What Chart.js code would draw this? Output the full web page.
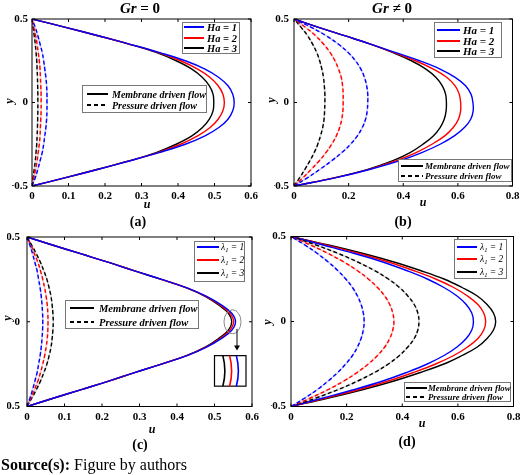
<!DOCTYPE html>
<html><head><meta charset="utf-8">
<script src="https://cdn.jsdelivr.net/npm/chart.js@4.4.1/dist/chart.umd.min.js"></script>
<style>
body{margin:0;width:520px;height:475px;overflow:hidden;background:#fff;position:relative;font-family:"Liberation Serif",serif;}
canvas{position:absolute;left:0;top:0;}
.t{position:absolute;white-space:nowrap;color:#000;z-index:6;line-height:1;}
.lg{position:absolute;border:1px solid #777;background:#fff;box-sizing:border-box;z-index:5;}
.ln{position:absolute;z-index:6;height:2px;}
sub{font-size:70%;vertical-align:-0.25em;line-height:0;}
</style></head><body>
<canvas id="ca" width="520" height="475"></canvas>
<canvas id="cb" width="520" height="475"></canvas>
<canvas id="cc" width="520" height="475"></canvas>
<canvas id="cd" width="520" height="475"></canvas>
<script>
// ---------- data ----------
const yGrid = [-0.5,-0.45,-0.4,-0.35,-0.3,-0.25,-0.2,-0.15,-0.1,-0.05,0,0.05,0.1,0.15,0.2,0.25,0.3,0.35,0.4,0.45,0.5];

// (a) Gr = 0
const aMemHa1 = [0,0.092,0.182,0.267,0.348,0.42,0.474,0.512,0.537,0.55,0.554,0.55,0.537,0.512,0.474,0.42,0.348,0.267,0.182,0.092,0];
const aMemHa2 = [0,0.092,0.181,0.266,0.345,0.407,0.454,0.488,0.51,0.523,0.527,0.523,0.51,0.488,0.454,0.407,0.345,0.266,0.181,0.092,0];
const aMemHa3 = [0,0.092,0.18,0.265,0.34,0.395,0.438,0.467,0.486,0.496,0.498,0.496,0.486,0.467,0.438,0.395,0.34,0.265,0.18,0.092,0];
const aPrsHa1 = [0,0.009,0.016,0.022,0.028,0.032,0.035,0.038,0.04,0.041,0.041,0.041,0.04,0.038,0.035,0.032,0.028,0.022,0.016,0.009,0];
const aPrsHa2 = [0,0.005,0.01,0.014,0.017,0.02,0.022,0.023,0.024,0.025,0.025,0.025,0.024,0.023,0.022,0.02,0.017,0.014,0.01,0.005,0];
const aPrsHa3 = [0,0.003,0.006,0.009,0.011,0.013,0.014,0.015,0.0155,0.016,0.016,0.016,0.0155,0.015,0.014,0.013,0.011,0.009,0.006,0.003,0];

// (b) Gr != 0
const bMemHa1 = [0,0.155,0.28,0.385,0.468,0.535,0.587,0.624,0.647,0.656,0.655,0.648,0.628,0.59,0.535,0.46,0.37,0.28,0.185,0.09,0];
const bMemHa2 = [0,0.152,0.275,0.372,0.447,0.505,0.552,0.583,0.602,0.61,0.61,0.605,0.59,0.56,0.51,0.445,0.365,0.28,0.185,0.09,0];
const bMemHa3 = [0,0.15,0.27,0.36,0.425,0.472,0.51,0.535,0.55,0.557,0.558,0.555,0.543,0.52,0.483,0.43,0.36,0.28,0.185,0.09,0];
const bPrsHa1 = [0,0.05,0.095,0.137,0.175,0.207,0.232,0.25,0.262,0.268,0.27,0.27,0.266,0.258,0.245,0.225,0.198,0.162,0.118,0.063,0];
const bPrsHa2 = [0,0.033,0.063,0.092,0.117,0.138,0.155,0.167,0.175,0.179,0.18,0.18,0.178,0.173,0.163,0.15,0.132,0.108,0.079,0.042,0];
const bPrsHa3 = [0,0.021,0.04,0.058,0.074,0.087,0.097,0.105,0.11,0.112,0.113,0.113,0.111,0.108,0.102,0.094,0.083,0.068,0.05,0.026,0];

// (c) lambda_1
const cMemL1 = [0,0.072,0.145,0.218,0.287,0.359,0.427,0.479,0.518,0.546,0.556,0.546,0.518,0.479,0.427,0.359,0.287,0.218,0.145,0.072,0];
const cMemL2 = [0,0.072,0.145,0.218,0.287,0.358,0.426,0.477,0.514,0.541,0.551,0.541,0.514,0.477,0.426,0.358,0.287,0.218,0.145,0.072,0];
const cMemL3 = [0,0.072,0.145,0.218,0.287,0.358,0.425,0.475,0.51,0.537,0.546,0.537,0.51,0.475,0.425,0.358,0.287,0.218,0.145,0.072,0];
const cPrsL1 = [0,0.008,0.015,0.021,0.027,0.031,0.035,0.038,0.04,0.0415,0.042,0.0415,0.04,0.038,0.035,0.031,0.027,0.021,0.015,0.008,0];
const cPrsL2 = [0,0.011,0.02,0.029,0.036,0.042,0.047,0.051,0.054,0.0555,0.056,0.0555,0.054,0.051,0.047,0.042,0.036,0.029,0.02,0.011,0];
const cPrsL3 = [0,0.013,0.025,0.036,0.045,0.053,0.059,0.064,0.067,0.069,0.07,0.069,0.067,0.064,0.059,0.053,0.045,0.036,0.025,0.013,0];

// (d) lambda_1
const dMemL1 = [0,0.115,0.228,0.33,0.415,0.49,0.55,0.597,0.63,0.65,0.656,0.65,0.63,0.597,0.55,0.49,0.415,0.33,0.228,0.115,0];
const dMemL2 = [0,0.125,0.245,0.35,0.44,0.52,0.585,0.635,0.672,0.693,0.7,0.693,0.672,0.635,0.585,0.52,0.44,0.35,0.245,0.125,0];
const dMemL3 = [0,0.135,0.26,0.37,0.465,0.55,0.615,0.67,0.705,0.728,0.736,0.728,0.705,0.67,0.615,0.55,0.465,0.37,0.26,0.135,0];
const dPrsL1 = [0,0.05,0.095,0.134,0.168,0.197,0.221,0.239,0.252,0.26,0.263,0.26,0.252,0.239,0.221,0.197,0.168,0.134,0.095,0.05,0];
const dPrsL2 = [0,0.07,0.134,0.19,0.238,0.278,0.311,0.337,0.355,0.366,0.37,0.366,0.355,0.337,0.311,0.278,0.238,0.19,0.134,0.07,0];
const dPrsL3 = [0,0.09,0.17,0.24,0.3,0.35,0.39,0.42,0.443,0.456,0.46,0.456,0.443,0.42,0.39,0.35,0.3,0.24,0.17,0.09,0];

// ticks & labels
const xTicks06 = [0,0.1,0.2,0.3,0.4,0.5,0.6];
const xTicks08 = [0,0.2,0.4,0.6,0.8];
const yTicks = [-0.5,0,0.5];
const haLabels = ['<i>Ha</i> = <i>1</i>','<i>Ha</i> = <i>2</i>','<i>Ha</i> = <i>3</i>'];
const lamLabels = ['<i>λ<sub>1</sub> = 1</i>','<i>λ<sub>1</sub> = 2</i>','<i>λ<sub>1</sub> = 3</i>'];
const flowLabels = ['Membrane driven flow','Pressure driven flow'];
const panelTitles = ['<i>Gr</i> = 0','<i>Gr</i> ≠ 0'];
const captions = ['(a)','(b)','(c)','(d)'];

// ---------- helpers ----------
const BLUE='#0000ff', RED='#ff0000', BLACK='#000000';
const HALO={[BLUE]:'rgba(0,0,255,0.2)',[RED]:'rgba(255,0,0,0.2)',[BLACK]:'rgba(0,0,0,0.16)'};
function pts(us){return us.map((u,i)=>({x:u,y:yGrid[i]}));}
function solid(us,c){return {data:pts(us),borderColor:c,borderWidth:1.4,pointRadius:0,showLine:true,tension:0.4,fill:false};}
function dashed(us,c){return {data:pts(us),borderColor:c,borderWidth:1.4,borderDash:[4,2.5],pointRadius:0,showLine:true,tension:0.4,fill:false};}
function halo(us,c){return {data:pts(us),borderColor:HALO[c],borderWidth:1.6,pointRadius:0,showLine:true,tension:0.4,fill:false};}
function fmt(v){ if(Math.abs(v)<1e-9) return '0'; return (v<0?'\u2212':'')+Math.abs(v).toFixed(1); }

const framePlugin={id:'frame',afterDatasetsDraw(chart){
  const {ctx,chartArea:a,scales:{x,y}}=chart; const L=3;
  ctx.save(); ctx.strokeStyle='#000'; ctx.lineWidth=1;
  ctx.strokeRect(a.left,a.top,a.right-a.left,a.bottom-a.top);
  ctx.beginPath();
  x.ticks.forEach(t=>{const p=x.getPixelForValue(t.value);ctx.moveTo(p,a.bottom);ctx.lineTo(p,a.bottom-L);ctx.moveTo(p,a.top);ctx.lineTo(p,a.top+L);});
  y.ticks.forEach(t=>{const p=y.getPixelForValue(t.value);ctx.moveTo(a.left,p);ctx.lineTo(a.left+L,p);ctx.moveTo(a.right,p);ctx.lineTo(a.right-L,p);});
  ctx.stroke();
  const ins=chart.options.plugins.inset;
  if(ins&&ins.on){
    const cx=x.getPixelForValue(ins.cx), cy=y.getPixelForValue(ins.cy);
    ctx.strokeStyle='#888'; ctx.lineWidth=1;
    ctx.beginPath(); ctx.ellipse(cx,cy,ins.rx,ins.ry,0,0,Math.PI*2); ctx.stroke();
    const ax=x.getPixelForValue(ins.ax), ay1=y.getPixelForValue(ins.ay1), ay2=y.getPixelForValue(ins.ay2);
    ctx.strokeStyle='#000'; ctx.beginPath(); ctx.moveTo(ax,ay1); ctx.lineTo(ax,ay2-3); ctx.stroke();
    ctx.fillStyle='#000'; ctx.beginPath(); ctx.moveTo(ax-3,ay2-5); ctx.lineTo(ax+3,ay2-5); ctx.lineTo(ax,ay2); ctx.closePath(); ctx.fill();
    const bx1=x.getPixelForValue(ins.bx1), bx2=x.getPixelForValue(ins.bx2), by1=y.getPixelForValue(ins.by1), by2=y.getPixelForValue(ins.by2);
    ctx.fillStyle='#fff'; ctx.fillRect(bx1,by1,bx2-bx1,by2-by1);
    ctx.strokeStyle='#000'; ctx.lineWidth=1.2; ctx.strokeRect(bx1,by1,bx2-bx1,by2-by1);
    ins.lines.forEach((lx,i)=>{const px=x.getPixelForValue(lx); ctx.strokeStyle=ins.colors[i]; ctx.lineWidth=1.6;
      ctx.beginPath(); ctx.moveTo(px-1,by1); ctx.quadraticCurveTo(px+3,(by1+by2)/2,px-1,by2); ctx.stroke();});
  }
  ctx.restore();
}};

function makeChart(id, mem, prs, colors, xTicks, xMax, pad, yPad, inset){
  const ds=[];
  prs.forEach((u,i)=>ds.push(dashed(u,colors[i])));
  mem.forEach((u,i)=>ds.push(solid(u,colors[i])));
  prs.forEach((u,i)=>ds.push(halo(u,colors[i])));
  const tickFont={family:'Liberation Serif',weight:'bold',size:11};
  return new Chart(document.getElementById(id),{
    type:'scatter',
    data:{datasets:ds},
    options:{
      responsive:false, animation:false, events:[],
      layout:{padding:pad},
      plugins:{legend:{display:false},tooltip:{enabled:false},inset:inset||{on:false}},
      scales:{
        x:{type:'linear',min:0,max:xMax,
          afterBuildTicks:s=>{s.ticks=xTicks.map(v=>({value:v}));},
          afterFit:s=>{s.height=20;s.paddingLeft=0;s.paddingRight=0;s.paddingTop=0;s.paddingBottom=0;},
          grid:{display:false,drawTicks:false},border:{display:false},
          ticks:{callback:v=>fmt(v),font:tickFont,color:'#000',padding:4,maxRotation:0,autoSkip:false}},
        y:{type:'linear',min:-0.5,max:0.5,
          afterBuildTicks:s=>{s.ticks=yTicks.map(v=>({value:v}));},
          afterFit:s=>{s.width=20;s.paddingLeft=0;s.paddingRight=0;s.paddingTop=0;s.paddingBottom=0;},
          grid:{display:false,drawTicks:false},border:{display:false},
          ticks:{callback:v=>fmt(v),font:tickFont,color:'#000',padding:yPad,autoSkip:false}}
      }
    },
    plugins:[framePlugin]
  });
}

const C3=[BLUE,RED,BLACK];
makeChart('ca',[aMemHa1,aMemHa2,aMemHa3],[aPrsHa1,aPrsHa2,aPrsHa3],C3,xTicks06,0.6,{left:12,top:19,right:269,bottom:269},4);
makeChart('cb',[bMemHa1,bMemHa2,bMemHa3],[bPrsHa1,bPrsHa2,bPrsHa3],C3,xTicks08,0.8,{left:274,top:19,right:7.5,bottom:269},5);
makeChart('cc',[cMemL1,cMemL2,cMemL3],[cPrsL1,cPrsL2,cPrsL3],C3,xTicks06,0.6,{left:7,top:237,right:268,bottom:48.5},7,
  {on:true,cx:0.548,cy:0,rx:8.5,ry:12,ax:0.56,ay1:-0.042,ay2:-0.17,bx1:0.5,bx2:0.584,by1:-0.2,by2:-0.38,lines:[0.525,0.543,0.561],colors:[BLACK,RED,BLUE]});
makeChart('cd',[dMemL1,dMemL2,dMemL3],[dPrsL1,dPrsL2,dPrsL3],C3,xTicks08,0.8,{left:271,top:236.5,right:6.5,bottom:48.5},5);

// ---------- text overlays ----------
function txt(html,x,y,font,opts){
  const d=document.createElement('div'); d.className='t'; d.innerHTML=html;
  d.style.left=x+'px'; d.style.top=y+'px'; d.style.font=font;
  d.style.transform=(opts&&opts.rot)?'translate(-50%,-50%) rotate(-90deg)':(opts&&opts.left?'translateY(-50%)':'translate(-50%,-50%)');
  document.body.appendChild(d); return d;
}
const titleFont='bold 15px "Liberation Serif"';
txt(panelTitles[0],140,8,titleFont);
txt(panelTitles[1],392,8,titleFont);
const capFont='bold 14px "Liberation Serif"';
txt(captions[0],138,222,capFont); txt(captions[1],403,222,capFont);
txt(captions[2],140,445,capFont); txt(captions[3],407,442,capFont);
const axFont='italic bold 12px "Liberation Serif"';
txt('u',147,204,axFont); txt('u',423,202,axFont); txt('u',152,429,axFont); txt('u',422,423,axFont);
txt('y',9,101,axFont,{rot:true}); txt('y',271,100,axFont,{rot:true}); txt('y',7,318,axFont,{rot:true}); txt('y',267,322,axFont,{rot:true});
const src=document.createElement('div'); src.className='t';
src.style.left='1px'; src.style.top='456px'; src.style.font='16px "Liberation Serif"';
src.innerHTML='<b>Source(s):</b> Figure by authors'; document.body.appendChild(src);

function legend(box,rowsY,lx,tx,labels,colors,dashes,font){
  const d=document.createElement('div'); d.className='lg';
  d.style.left=box[0]+'px'; d.style.top=box[1]+'px'; d.style.width=(box[2]-box[0])+'px'; d.style.height=(box[3]-box[1])+'px';
  document.body.appendChild(d);
  rowsY.forEach((ry,i)=>{
    const l=document.createElement('div'); l.className='ln';
    l.style.left=lx[0]+'px'; l.style.top=Math.round(ry-1)+'px'; l.style.width=(lx[1]-lx[0])+'px';
    l.style.background=dashes[i]?`repeating-linear-gradient(90deg, ${colors[i]} 0 4px, transparent 4px 7px)`:colors[i];
    document.body.appendChild(l);
    txt(labels[i],tx,ry,font,{left:true});
  });
}
const lf=(s)=>'italic bold '+s+'px "Liberation Serif"';
legend([182,22,240,54],[27,37.5,48],[184,204],207,haLabels,C3,[0,0,0],lf(10.5));
legend([82,85,207,113],[94.3,105.3],[87,108],112,flowLabels,[BLACK,BLACK],[0,1],lf(10));
legend([434,22,502,58],[30,40.5,51],[437,460],463,haLabels,C3,[0,0,0],lf(11));
legend([398,159,512,182],[165.5,175.5],[401,423],425,flowLabels,[BLACK,BLACK],[0,1],lf(9));
legend([194,241,245,282],[247,259.5,272.5],[197,219],221,lamLabels,C3,[0,0,0],'italic 9.5px "Liberation Serif"');
legend([65,300,199,329],[308,321.5],[70,94],99,flowLabels,[BLACK,BLACK],[0,1],lf(10.5));
legend([454,239,507,279],[246.5,259,271.5],[457,477],480,lamLabels,C3,[0,0,0],'italic 9.5px "Liberation Serif"');
legend([404,382,511,402],[387.5,397],[406,427],428,flowLabels,[BLACK,BLACK],[0,1],lf(8.8));
</script>
</body></html>
